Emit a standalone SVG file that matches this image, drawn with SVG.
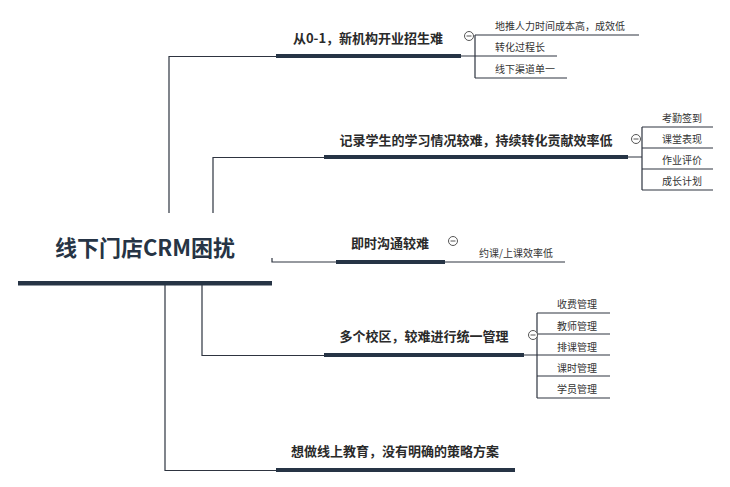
<svg xmlns="http://www.w3.org/2000/svg" width="730" height="487" viewBox="0 0 730 487">
<style>
.bg{fill:#ffffff}
.conn{fill:none;stroke:#2e3440;stroke-width:1.2}
.bar{fill:#263445}
.root{font-family:"Noto Sans CJK SC","Liberation Sans",sans-serif;font-size:22px;font-weight:bold;fill:#263445}
.main{font-family:"Noto Sans CJK SC","Liberation Sans",sans-serif;font-size:13px;font-weight:bold;fill:#2a2a2a}
.sub{font-family:"Noto Sans CJK SC","Liberation Sans",sans-serif;font-size:10px;fill:#333333}
.tog{fill:#ffffff;stroke:#555555;stroke-width:1}
.togm{stroke:#555555;stroke-width:1}
</style>
<rect class="bg" x="0" y="0" width="730" height="487"/>
<g id="connectors">
<path class="conn" d="M169,213 V56.5 H276"/>
<path class="conn" d="M213,213 V157.5 H324"/>
<path class="conn" d="M272,258 V262 H336"/>
<path class="conn" d="M202,285 V355.5 H324"/>
<path class="conn" d="M165,285 V470.5 H276"/>
<!-- branch1 children -->
<path class="conn" d="M461,56 H475 M475,35 V78 M475,35 H639 M475,56 H557 M475,78 H567"/>
<!-- branch2 children -->
<path class="conn" d="M628,157 H642 M642,127 V190 M642,127 H713 M642,148 H713 M642,169 H713 M642,190 H713"/>
<!-- branch3 child -->
<path class="conn" d="M445,262 H565"/>
<!-- branch4 children -->
<path class="conn" d="M524,355 H537 M537,313 V398 M537,313 H610 M537,334 H610 M537,355 H610 M537,376 H610 M537,398 H610"/>
</g>
<g id="root">
<text class="root" x="145" y="256" text-anchor="middle">线下门店CRM困扰</text>
<rect class="bar" x="18" y="281" width="254" height="4.5"/>
</g>
<g id="b1">
<text class="main" x="368" y="43" text-anchor="middle">从0-1，新机构开业招生难</text>
<rect class="bar" x="276" y="54" width="185" height="4"/>
<circle class="tog" cx="469" cy="36" r="4.5"/>
<line class="togm" x1="466.5" y1="36" x2="471.5" y2="36"/>
</g>
<g id="b1c1"><text class="sub" x="495" y="30">地推人力时间成本高，成效低</text></g>
<g id="b1c2"><text class="sub" x="495" y="51">转化过程长</text></g>
<g id="b1c3"><text class="sub" x="495" y="73">线下渠道单一</text></g>
<g id="b2">
<text class="main" x="476" y="145" text-anchor="middle">记录学生的学习情况较难，持续转化贡献效率低</text>
<rect class="bar" x="324" y="155" width="304" height="4"/>
<circle class="tog" cx="636" cy="139" r="4.5"/>
<line class="togm" x1="633.5" y1="139" x2="638.5" y2="139"/>
</g>
<g id="b2c1"><text class="sub" x="682" y="122" text-anchor="middle">考勤签到</text></g>
<g id="b2c2"><text class="sub" x="682" y="143" text-anchor="middle">课堂表现</text></g>
<g id="b2c3"><text class="sub" x="682" y="164" text-anchor="middle">作业评价</text></g>
<g id="b2c4"><text class="sub" x="682" y="185" text-anchor="middle">成长计划</text></g>
<g id="b3">
<text class="main" x="390" y="248" text-anchor="middle">即时沟通较难</text>
<rect class="bar" x="336" y="260" width="109" height="4"/>
<circle class="tog" cx="453" cy="241" r="4.5"/>
<line class="togm" x1="450.5" y1="241" x2="455.5" y2="241"/>
</g>
<g id="b3c1"><text class="sub" x="516" y="257" text-anchor="middle">约课/上课效率低</text></g>
<g id="b4">
<text class="main" x="424" y="341" text-anchor="middle">多个校区，较难进行统一管理</text>
<rect class="bar" x="324" y="353" width="200" height="4"/>
<circle class="tog" cx="533" cy="335" r="4.5"/>
<line class="togm" x1="530.5" y1="335" x2="535.5" y2="335"/>
</g>
<g id="b4c1"><text class="sub" x="577" y="308" text-anchor="middle">收费管理</text></g>
<g id="b4c2"><text class="sub" x="577" y="330" text-anchor="middle">教师管理</text></g>
<g id="b4c3"><text class="sub" x="577" y="351" text-anchor="middle">排课管理</text></g>
<g id="b4c4"><text class="sub" x="577" y="372" text-anchor="middle">课时管理</text></g>
<g id="b4c5"><text class="sub" x="577" y="393" text-anchor="middle">学员管理</text></g>
<g id="b5">
<text class="main" x="395" y="456" text-anchor="middle">想做线上教育，没有明确的策略方案</text>
<rect class="bar" x="276" y="468" width="239" height="4"/>
</g>
</svg>
